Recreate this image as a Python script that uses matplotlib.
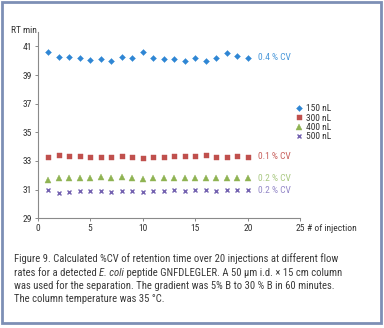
import numpy as np
import matplotlib
matplotlib.use("Agg")
from matplotlib import pyplot as plt
from matplotlib.patches import Rectangle

plt.rcParams['font.family'] = ['Roboto Condensed', 'DejaVu Sans']

# retention time (min) per injection, one array per flow rate
injections = np.arange(1, 21)
rt_150 = [40.60, 40.23, 40.23, 40.18, 40.07, 40.13, 39.97, 40.23, 40.18, 40.60,
          40.18, 40.13, 40.13, 39.97, 40.18, 39.97, 40.18, 40.53, 40.30, 40.18]
rt_300 = [33.30, 33.40, 33.33, 33.37, 33.25, 33.28, 33.28, 33.35, 33.30, 33.21,
          33.28, 33.28, 33.33, 33.33, 33.35, 33.40, 33.30, 33.30, 33.35, 33.30]
rt_400 = [31.63, 31.81, 31.77, 31.77, 31.79, 31.84, 31.77, 31.88, 31.81, 31.72,
          31.77, 31.81, 31.79, 31.79, 31.77, 31.77, 31.77, 31.77, 31.77, 31.77]
rt_500 = [30.95, 30.77, 30.84, 30.88, 30.91, 30.91, 30.86, 30.88, 30.88, 30.86,
          30.88, 30.93, 30.95, 30.93, 30.98, 30.98, 30.93, 30.95, 30.95, 30.95]
flow_labels = ['150 nL', '300 nL', '400 nL', '500 nL']
cv_labels = ['0.4 % CV', '0.1 % CV', '0.2 % CV', '0.2 % CV']

series = [rt_150, rt_300, rt_400, rt_500]
markers = ['D', 's', '^', 'x']
sizes = [3.0, 3.6, 3.9, 3.3]
colors = ['#2f86d4', '#c0504d', '#8fb352', '#7462b0']
cv_colors = ['#4a98da', '#c8605c', '#aac983', '#9488c8']

fig = plt.figure(figsize=(3.84, 3.28), dpi=100)
fig.patches.append(Rectangle((0.004, 0.015), 0.989, 0.978, transform=fig.transFigure,
                             fill=False, edgecolor='#7d8fb5', linewidth=2.0))

ax = fig.add_axes([0.098, 0.335, 0.684, 0.567])
for vals, m, s, c, lab in zip(series, markers, sizes, colors, flow_labels):
    ax.plot(injections, vals, linestyle='none', marker=m, markersize=s, color=c,
            markeredgewidth=1.0 if m == 'x' else 0.3, label=lab)

for vals, c, lab in zip(series, cv_colors, cv_labels):
    ax.text(21, np.mean(vals), lab, color=c, fontsize=6.8, ha='left', va='center')

ax.set_xlim(0, 25)
ax.set_ylim(29, 42)
ax.set_xticks([0, 5, 10, 15, 20, 25])
ax.set_yticks([29, 31, 33, 35, 37, 39, 41])
for side in ['top', 'right']:
    ax.spines[side].set_visible(False)
for side in ['left', 'bottom']:
    ax.spines[side].set_color('#8a8a8a')
    ax.spines[side].set_linewidth(0.8)
ax.tick_params(direction='out', length=2, width=0.7, color='#8a8a8a',
               labelsize=6.8, labelcolor='#333333', pad=2)

ax.annotate('RT min', xy=(0, 42), xytext=(-0.5, 1), textcoords='offset points',
            ha='right', va='center', fontsize=6.8, color='#333333')
ax.annotate('# of injection', xy=(25, 29), xytext=(5, -7.4), textcoords='offset points',
            ha='left', va='center', fontsize=6.8, color='#333333')

ax.legend(loc='upper left', bbox_to_anchor=(0.965, 0.632), frameon=False,
          fontsize=6.8, handlelength=0.8, handletextpad=0.4, labelspacing=0.04,
          borderaxespad=0, labelcolor='#333333')

# caption, with the species name in italics
cap = dict(fontsize=7.7, color='#3a3a3a', ha='left', va='baseline')
x0 = 14 / 384
ys = [262, 276, 289, 302]
fig.text(x0, 1 - ys[0] / 328,
         'Figure 9. Calculated %CV of retention time over 20 injections at different flow', **cap)
renderer = fig.canvas.get_renderer()
t1 = fig.text(x0, 1 - ys[1] / 328, 'rates for a detected ', **cap)
bb = t1.get_window_extent(renderer).transformed(fig.transFigure.inverted())
t2 = fig.text(bb.x1, 1 - ys[1] / 328, 'E. coli', style='italic', **cap)
bb = t2.get_window_extent(renderer).transformed(fig.transFigure.inverted())
fig.text(bb.x1, 1 - ys[1] / 328,
         ' peptide GNFDLEGLER. A 50 µm i.d. × 15 cm column', **cap)
fig.text(x0, 1 - ys[2] / 328,
         'was used for the separation. The gradient was 5% B to 30 % B in 60 minutes.', **cap)
fig.text(x0, 1 - ys[3] / 328, 'The column temperature was 35 °C.', **cap)

fig.savefig('out.png', dpi=100)
